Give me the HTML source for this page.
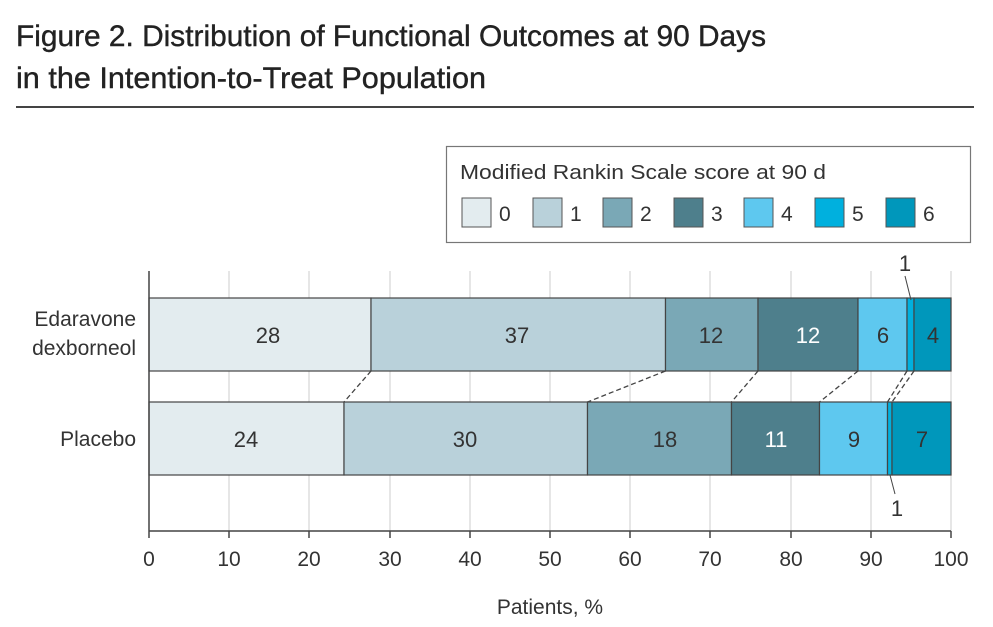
<!DOCTYPE html>
<html><head><meta charset="utf-8"><style>
html,body{margin:0;padding:0;background:#fff;}
svg{display:block;font-family:"Liberation Sans",sans-serif;}
</style></head><body>
<svg width="993" height="627" viewBox="0 0 993 627" xmlns="http://www.w3.org/2000/svg">
<text x="16" y="46" font-size="30" fill="#222" stroke="#222" stroke-width="0.4" textLength="750" lengthAdjust="spacingAndGlyphs">Figure 2. Distribution of Functional Outcomes at 90 Days</text>
<text x="16" y="88" font-size="30" fill="#222" stroke="#222" stroke-width="0.4" textLength="470" lengthAdjust="spacingAndGlyphs">in the Intention-to-Treat Population</text>
<rect x="16" y="106" width="958" height="2" fill="#444"/>
<!-- legend -->
<rect x="446.5" y="146.5" width="524" height="96" fill="#fff" stroke="#777" stroke-width="1.2"/>
<text x="460" y="179" font-size="20" fill="#333" textLength="366" lengthAdjust="spacingAndGlyphs">Modified Rankin Scale score at 90 d</text>
<g stroke="#555" stroke-width="1">
<rect x="462" y="198" width="29" height="29" fill="#e3ecef"/>
<rect x="533" y="198" width="29" height="29" fill="#b9d1da"/>
<rect x="603" y="198" width="29" height="29" fill="#7aa8b6"/>
<rect x="674" y="198" width="29" height="29" fill="#4e7f8c"/>
<rect x="744" y="198" width="29" height="29" fill="#5ec8ef"/>
<rect x="815" y="198" width="29" height="29" fill="#00b0de"/>
<rect x="886" y="198" width="29" height="29" fill="#0097bb"/>
</g>
<g font-size="21" fill="#333">
<text x="499" y="221">0</text><text x="570" y="221">1</text><text x="640" y="221">2</text>
<text x="711" y="221">3</text><text x="781" y="221">4</text><text x="852" y="221">5</text><text x="923" y="221">6</text>
</g>
<!-- grid -->
<g stroke="#ddd" stroke-width="1.5">
<line x1="229" y1="271" x2="229" y2="531"/><line x1="309" y1="271" x2="309" y2="531"/>
<line x1="390" y1="271" x2="390" y2="531"/><line x1="470" y1="271" x2="470" y2="531"/>
<line x1="550" y1="271" x2="550" y2="531"/><line x1="630" y1="271" x2="630" y2="531"/>
<line x1="710" y1="271" x2="710" y2="531"/><line x1="791" y1="271" x2="791" y2="531"/>
<line x1="871" y1="271" x2="871" y2="531"/><line x1="951" y1="271" x2="951" y2="531"/>
</g>
<!-- bars -->
<g stroke="#444" stroke-width="1.2">
<rect x="149" y="298" width="222" height="73" fill="#e3ecef"/>
<rect x="371" y="298" width="294.5" height="73" fill="#b9d1da"/>
<rect x="665.5" y="298" width="92.5" height="73" fill="#7aa8b6"/>
<rect x="758" y="298" width="100" height="73" fill="#4e7f8c"/>
<rect x="858" y="298" width="49" height="73" fill="#5ec8ef"/>
<rect x="907" y="298" width="7" height="73" fill="#00b0de"/>
<rect x="914" y="298" width="37" height="73" fill="#0097bb"/>
<rect x="149" y="402" width="195" height="73" fill="#e3ecef"/>
<rect x="344" y="402" width="243.5" height="73" fill="#b9d1da"/>
<rect x="587.5" y="402" width="144" height="73" fill="#7aa8b6"/>
<rect x="731.5" y="402" width="88" height="73" fill="#4e7f8c"/>
<rect x="819.5" y="402" width="68" height="73" fill="#5ec8ef"/>
<rect x="887.5" y="402" width="4.5" height="73" fill="#00b0de"/>
<rect x="892" y="402" width="59" height="73" fill="#0097bb"/>
</g>
<g stroke="#444" stroke-width="1.3" stroke-dasharray="5,3">
<line x1="371" y1="371" x2="344" y2="402"/>
<line x1="665.5" y1="371" x2="587.5" y2="402"/>
<line x1="758" y1="371" x2="731.5" y2="402"/>
<line x1="858" y1="371" x2="819.5" y2="402"/>
<line x1="907" y1="371" x2="887.5" y2="402"/>
<line x1="914" y1="371" x2="892" y2="402"/>
</g>
<g stroke="#444" stroke-width="1">
<line x1="905" y1="276" x2="911" y2="300"/>
<line x1="890" y1="475" x2="895" y2="494"/>
</g>
<g font-size="22" fill="#333" text-anchor="middle">
<text x="905" y="271">1</text><text x="897" y="516">1</text>
<text x="268" y="343">28</text><text x="517" y="343">37</text><text x="711" y="343">12</text>
<text x="808" y="343" fill="#fff">12</text><text x="883" y="343">6</text><text x="933" y="343">4</text>
<text x="246" y="447">24</text><text x="465" y="447">30</text><text x="665" y="447">18</text>
<text x="776" y="447" fill="#fff">11</text><text x="854" y="447">9</text><text x="922" y="447">7</text>
</g>
<g font-size="21" fill="#333" text-anchor="end">
<text x="136" y="326">Edaravone</text><text x="136" y="355">dexborneol</text>
<text x="136" y="446">Placebo</text>
</g>
<!-- axes -->
<g stroke="#444" stroke-width="1.5">
<line x1="149" y1="271" x2="149" y2="538"/>
<line x1="149" y1="531" x2="951" y2="531"/>
<line x1="229" y1="531" x2="229" y2="538"/><line x1="309" y1="531" x2="309" y2="538"/>
<line x1="390" y1="531" x2="390" y2="538"/><line x1="470" y1="531" x2="470" y2="538"/>
<line x1="550" y1="531" x2="550" y2="538"/><line x1="630" y1="531" x2="630" y2="538"/>
<line x1="710" y1="531" x2="710" y2="538"/><line x1="791" y1="531" x2="791" y2="538"/>
<line x1="871" y1="531" x2="871" y2="538"/><line x1="951" y1="531" x2="951" y2="538"/>
</g>
<g font-size="21" fill="#333" text-anchor="middle">
<text x="149" y="566">0</text><text x="229" y="566">10</text><text x="309" y="566">20</text>
<text x="390" y="566">30</text><text x="470" y="566">40</text><text x="550" y="566">50</text>
<text x="630" y="566">60</text><text x="710" y="566">70</text><text x="791" y="566">80</text>
<text x="871" y="566">90</text><text x="951" y="566">100</text>
<text x="550" y="614">Patients, %</text>
</g>
</svg>
</body></html>
